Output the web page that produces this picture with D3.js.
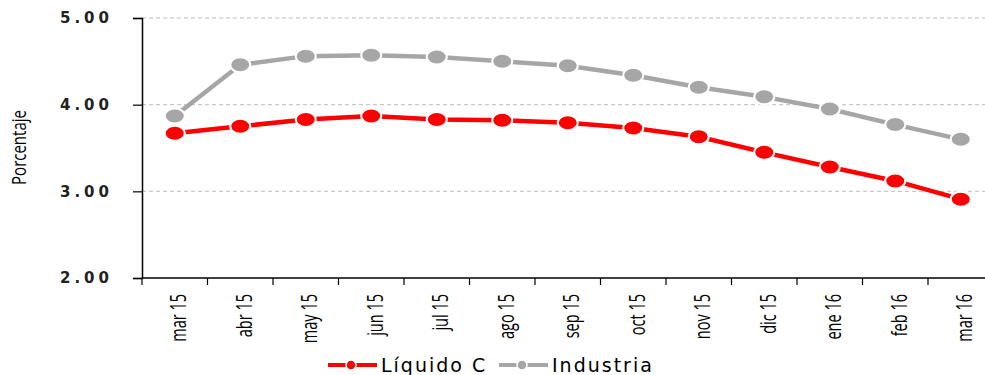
<!DOCTYPE html>
<html>
<head>
<meta charset="utf-8">
<script src="https://cdn.jsdelivr.net/npm/d3@7"></script>
<style>
  body { margin: 0; background: #fff; }
  .ylab text { font-family: "DejaVu Sans", sans-serif; font-weight: bold; font-size: 15px; letter-spacing: 4px; }
  .xlab text { font-family: "Open Sans", sans-serif; font-size: 22px; }
</style>
</head>
<body>
<div id="chart"></div>
<script>
// data
var months = ["mar 15", "abr 15", "may 15", "jun 15", "jul 15", "ago 15", "sep 15",
              "oct 15", "nov 15", "dic 15", "ene 16", "feb 16", "mar 16"];
var liquidoC = [3.67, 3.75, 3.83, 3.87, 3.83, 3.82, 3.79, 3.73, 3.63, 3.45, 3.28, 3.12, 2.91];
var industria = [3.87, 4.46, 4.56, 4.57, 4.55, 4.50, 4.45, 4.34, 4.20, 4.09, 3.95, 3.77, 3.60];
var yTicks = [2, 3, 4, 5];

var W = 985, H = 375;
var margin = {top: 18, left: 142, bottom: 97};
var plotW = 851.5, plotH = H - margin.top - margin.bottom;

var svg = d3.select("#chart").append("svg")
    .attr("width", W).attr("height", H);
var g = svg.append("g")
    .attr("transform", "translate(" + margin.left + "," + margin.top + ")");

var x = d3.scaleBand().domain(months).range([0, plotW]);
var y = d3.scaleLinear().domain([2, 5]).range([plotH, 0]);

// gridlines
g.selectAll(".grid").data(yTicks.filter(function(d) { return d > 2; }))
  .enter().append("line")
    .attr("x1", 0).attr("x2", plotW)
    .attr("y1", function(d) { return y(d); })
    .attr("y2", function(d) { return y(d); })
    .attr("stroke", "#bdbdbd").attr("stroke-dasharray", "4,3");

// y axis
var yAxis = g.append("g").attr("class", "ylab")
    .call(d3.axisLeft(y).tickValues(yTicks).tickFormat(d3.format(".2f")).tickSize(9).tickPadding(20));
yAxis.select(".domain").attr("stroke", "#000").attr("stroke-width", 1.5);
yAxis.selectAll(".tick line").attr("stroke", "#000").attr("stroke-width", 1.2);
yAxis.selectAll("text").attr("fill", "#222");

// x axis with ticks on band boundaries
var xAxis = g.append("g").attr("class", "xlab")
    .attr("transform", "translate(0," + plotH + ")");
xAxis.append("line").attr("x1", 0).attr("x2", plotW)
    .attr("stroke", "#000").attr("stroke-width", 1.5);
xAxis.selectAll(".xt").data(months).enter().append("line")
    .attr("x1", function(d) { return x(d); })
    .attr("x2", function(d) { return x(d); })
    .attr("y1", 0).attr("y2", 7)
    .attr("stroke", "#000").attr("stroke-width", 1.2);
// condensed look: squeeze along the text direction
xAxis.selectAll("text").data(months).enter().append("text")
    .attr("transform", function(d) {
      return "translate(" + (x(d) + x.bandwidth() / 2 + 11.5) + ",16) rotate(-90) scale(0.66,1)";
    })
    .attr("text-anchor", "end")
    .text(function(d) { return d; });

// y title
svg.append("text")
    .attr("transform", "translate(25.5,147.5) rotate(-90) scale(0.75,1)")
    .attr("text-anchor", "middle")
    .style("font-family", "'Open Sans', sans-serif")
    .style("font-size", "20px")
    .text("Porcentaje");

// series
var series = [
  {name: "Líquido C", values: liquidoC, color: "#ff0000"},
  {name: "Industria", values: industria, color: "#a6a6a6"}
];
var line = d3.line()
    .x(function(d, i) { return x(months[i]) + x.bandwidth() / 2; })
    .y(function(d) { return y(d); });

series.forEach(function(s) {
  g.append("path").datum(s.values)
    .attr("d", line)
    .attr("fill", "none")
    .attr("stroke", s.color)
    .attr("stroke-width", 4.5);
  g.selectAll(null).data(s.values).enter().append("ellipse")
    .attr("cx", function(d, i) { return x(months[i]) + x.bandwidth() / 2; })
    .attr("cy", function(d) { return y(d); })
    .attr("rx", 10).attr("ry", 7.5)
    .attr("fill", s.color)
    .attr("stroke", "#fff").attr("stroke-width", 2);
});

// legend
var legend = svg.append("g").attr("transform", "translate(328,365)");
var lx = [0, 171];
series.forEach(function(s, i) {
  var lg = legend.append("g").attr("transform", "translate(" + lx[i] + ",0)");
  lg.append("line").attr("x1", 0).attr("x2", 49).attr("y1", 0).attr("y2", 0)
    .attr("stroke", s.color).attr("stroke-width", 4);
  lg.append("circle").attr("cx", 23).attr("cy", 0).attr("r", 5)
    .attr("fill", s.color).attr("stroke", "#fff").attr("stroke-width", 1.5);
  lg.append("text").attr("x", 53).attr("y", 7)
    .style("font-family", "'DejaVu Sans', sans-serif")
    .style("font-size", "19px")
    .style("letter-spacing", "2px")
    .text(s.name);
});
</script>
</body>
</html>
